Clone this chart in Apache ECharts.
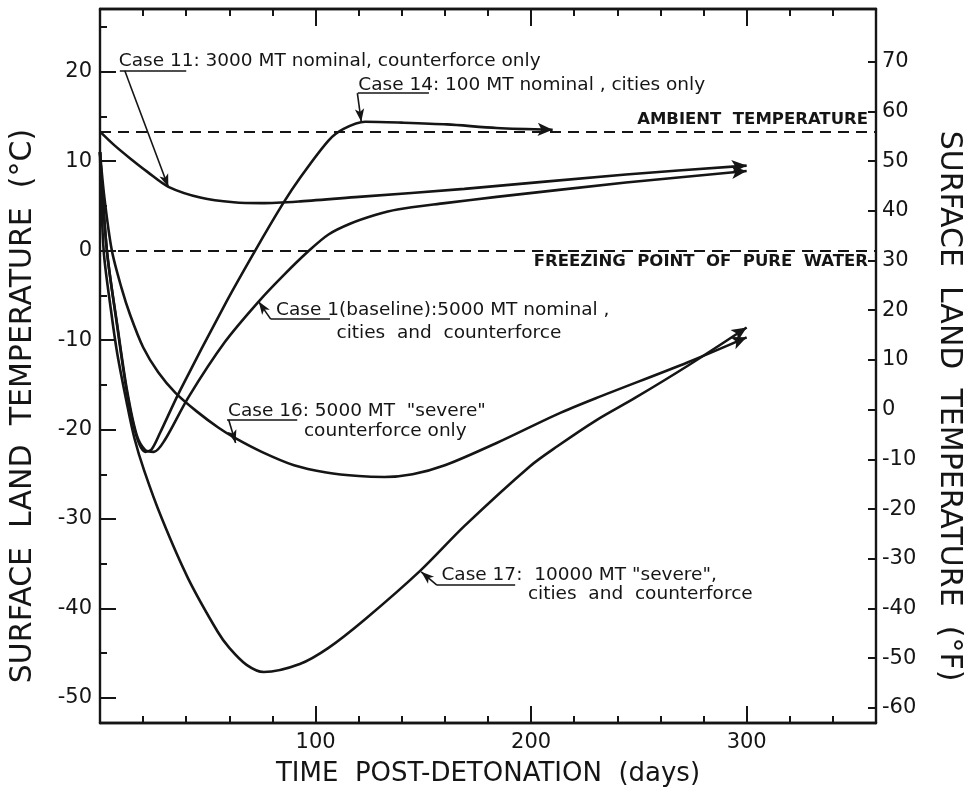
<!DOCTYPE html>
<html>
<head>
<meta charset="utf-8">
<title>Surface land temperature</title>
<script src="https://cdn.jsdelivr.net/npm/echarts@6/dist/echarts.min.js"></script>
<style>
  html, body { margin: 0; padding: 0; background: #fff; }
  #chart { width: 972px; height: 796px; }
</style>
</head>
<body>
<div id="chart"></div>
<script>
  // curves, [day, degC]
  const case11Data = [[0, 13.3], [7, 11.7], [14, 10.3], [22, 8.8], [32, 7.1], [47, 5.9], [62, 5.4], [75, 5.3], [93, 5.5], [120, 6.0], [169, 6.9], [244, 8.5], [300, 9.5]]
  const case14Data = [[0, 11], [3.2, 0], [8, -8.5], [12.6, -16], [17, -20.8], [21, -22.5], [24, -22.2], [28, -20.3], [37, -15.7], [58, -6.0], [72, 0], [85, 5.3], [93, 8.2], [106, 12.3], [113, 13.6], [123, 14.4], [140, 14.3], [161, 14.1], [184, 13.7], [210, 13.5]]
  const case1Data = [[0, 11], [3.2, 0], [8, -8.3], [12.6, -15.7], [17, -20.6], [21, -22.3], [25, -22.5], [30, -21.2], [41, -16.4], [58, -10.2], [73.6, -5.7], [85, -2.8], [97, 0], [106, 1.8], [116, 3.0], [128, 4.0], [138, 4.6], [160, 5.3], [184, 6.0], [244, 7.6], [300, 8.9]]
  const case16Data = [[0, 11], [2, 6], [5.5, 0], [10, -4.2], [14, -7.2], [20, -10.8], [27, -13.6], [35, -15.9], [45, -18.0], [55, -19.8], [63, -21.0], [75, -22.5], [90, -24.0], [105, -24.8], [120, -25.2], [132, -25.3], [145, -25.0], [160, -24.0], [184, -21.5], [212, -18.3], [230, -16.5], [272.5, -12.5], [300, -9.7]]
  const case17Data = [[0, 11], [1.7, 0], [5, -6.5], [8, -11.5], [12.4, -17], [16, -21], [20.5, -24.6], [28.6, -29.9], [40.8, -36.6], [54.6, -42.6], [60, -44.4], [68, -46.3], [76, -47.1], [92.7, -46.2], [106, -44.4], [123, -41.2], [148.5, -35.8], [169, -30.8], [199.5, -24.1], [212, -21.9], [230, -19.0], [248, -16.5], [272.5, -12.9], [300, -8.6]]

  const ambientTemp = 13.3
  const freezingTemp = 0
  const levelNames = ['AMBIENT  TEMPERATURE', 'FREEZING  POINT  OF  PURE  WATER']

  const caption11 = ['Case 11: 3000 MT nominal, counterforce only']
  const caption14 = ['Case 14: 100 MT nominal , cities only']
  const caption1 = ['Case 1(baseline):5000 MT nominal ,', 'cities  and  counterforce']
  const caption16 = ['Case 16: 5000 MT  "severe"', 'counterforce only']
  const caption17 = ['Case 17:  10000 MT "severe",', 'cities  and  counterforce']

  const dayMajorTicks = [100, 200, 300]
  const dayMinorTicks = [20, 40, 60, 80, 120, 140, 160, 180, 220, 240, 260, 280, 320, 340]
  const celsiusTicks = [-50, -40, -30, -20, -10, 0, 10, 20]
  const celsiusMinorTicks = [-45, -35, -25, -15, -5, 5, 15, 25]
  const fahrenheitTicks = [-60, -50, -40, -30, -20, -10, 0, 10, 20, 30, 40, 50, 60, 70]

  const tMin = -52.8
  const tMax = 27
  const toF = c => c * 9 / 5 + 32

  const ink = '#151515'
  const font = 'DejaVu Sans'

  let chart = echarts.init(document.getElementById('chart'))

  function curve(name, data) {
    let n = data.length
    return {
      name: name,
      type: 'line',
      data: data,
      smooth: 0.3,
      symbol: 'none',
      silent: true,
      lineStyle: { color: ink, width: 2.6 },
      markLine: {
        silent: true,
        symbol: ['none', 'arrow'],
        symbolSize: [10, 15],
        label: { show: false },
        lineStyle: { color: ink, width: 0, type: 'solid' },
        data: [[{ coord: data[n - 2] }, { coord: data[n - 1] }]]
      },
      z: 3
    }
  }

  // annotation: text lines anchored at [day, degC], underline and leader arrow
  function note(lines, texts, under, leader) {
    return {
      type: 'scatter',
      symbolSize: 0,
      silent: true,
      itemStyle: { opacity: 1, color: ink },
      data: lines.map((p, i) => ({ value: p, label: { formatter: texts[i] } })),
      label: { show: true, position: 'right', distance: 0, color: ink, opacity: 1, fontSize: 18.5, fontFamily: font },
      markLine: {
        silent: true,
        label: { show: false },
        lineStyle: { color: ink, width: 1.6, type: 'solid', opacity: 1 },
        data: [
          [{ coord: [under[0], under[2]], symbol: 'none' }, { coord: [under[1], under[2]], symbol: 'none' }],
          [{ coord: leader[0], symbol: 'none' }, { coord: leader[1], symbol: 'arrow', symbolSize: [7, 13] }]
        ]
      },
      z: 4
    }
  }

  function tickAxis(pos, values, len, extra) {
    return Object.assign({
      type: 'value',
      position: pos,
      min: 0,
      max: 360,
      interval: 20,
      axisLine: { show: true, onZero: false, lineStyle: { color: ink, width: 2.4 } },
      axisTick: { show: true, inside: true, length: len, customValues: values, lineStyle: { color: ink, width: 2 } },
      axisLabel: { show: false },
      splitLine: { show: false }
    }, extra || {})
  }

  let option = {
    animation: false,
    backgroundColor: '#fff',
    textStyle: { fontFamily: font, color: ink },
    grid: { left: 98, right: 90, top: 9, bottom: 73, containLabel: false },
    xAxis: [
      tickAxis('bottom', dayMajorTicks, 17, {
        interval: 100,
        name: 'TIME  POST-DETONATION  (days)',
        nameLocation: 'middle',
        nameGap: 38,
        nameTextStyle: { fontSize: 26, color: ink, fontFamily: font },
        axisLabel: { show: true, customValues: dayMajorTicks, margin: 9, fontSize: 21, color: ink, fontFamily: font }
      }),
      tickAxis('bottom', dayMinorTicks, 7),
      tickAxis('top', dayMajorTicks, 17),
      tickAxis('top', dayMinorTicks, 7)
    ],
    yAxis: [
      {
        type: 'value',
        position: 'left',
        min: tMin,
        max: tMax,
        axisLine: { show: true, onZero: false, lineStyle: { color: ink, width: 2.4 } },
        axisTick: { show: true, inside: true, length: 16, customValues: celsiusTicks, lineStyle: { color: ink, width: 2 } },
        axisLabel: { customValues: celsiusTicks, margin: 8, fontSize: 21, color: ink, fontFamily: font },
        splitLine: { show: false },
        name: 'SURFACE  LAND  TEMPERATURE  (°C)',
        nameLocation: 'middle',
        nameRotate: 90,
        nameGap: 62,
        nameTextStyle: { fontSize: 30, color: ink, fontFamily: font, padding: [0, 80, 0, 0] }
      },
      {
        type: 'value',
        position: 'left',
        min: tMin,
        max: tMax,
        axisLine: { show: false },
        axisTick: { show: true, inside: true, length: 7, customValues: celsiusMinorTicks, lineStyle: { color: ink, width: 2 } },
        axisLabel: { show: false },
        splitLine: { show: false }
      },
      {
        type: 'value',
        position: 'right',
        min: toF(tMin),
        max: toF(tMax),
        axisLine: { show: true, onZero: false, lineStyle: { color: ink, width: 2.4 } },
        axisTick: { show: true, inside: true, length: 8, customValues: fahrenheitTicks, lineStyle: { color: ink, width: 2 } },
        axisLabel: { customValues: fahrenheitTicks, margin: 6, fontSize: 21, color: ink, fontFamily: font },
        splitLine: { show: false },
        name: 'SURFACE  LAND  TEMPERATURE  (°F)',
        nameLocation: 'middle',
        nameRotate: -90,
        nameGap: 58,
        nameTextStyle: { fontSize: 30, color: ink, fontFamily: font, padding: [0, 0, 0, 80] }
      }
    ],
    series: [
      {
        name: 'levels',
        type: 'scatter',
        symbolSize: 0,
        silent: true,
        data: [[0, ambientTemp], [0, freezingTemp]],
        markLine: {
          silent: true,
          symbol: 'none',
          lineStyle: { color: ink, width: 2, type: [11, 7] },
          label: { show: true, color: ink, fontSize: 16.5, fontWeight: 'bold', fontFamily: font },
          data: [
            { yAxis: ambientTemp, label: { position: 'insideEndTop', formatter: levelNames[0], distance: [8, 3] } },
            { yAxis: freezingTemp, label: { position: 'insideEndBottom', formatter: levelNames[1], distance: [8, 3] } }
          ]
        }
      },
      curve('Case 11', case11Data),
      curve('Case 14', case14Data),
      curve('Case 1', case1Data),
      curve('Case 16', case16Data),
      curve('Case 17', case17Data),
      note([[8.7, 21.2]], caption11, [9.2, 40, 20.1], [[11.5, 20.1], [31.7, 7.1]]),
      note([[119.8, 18.5]], caption14, [119.6, 152.6, 17.6], [[119.4, 17.6], [121.2, 14.4]]),
      note([[81.7, -6.7], [109.7, -9.2]], caption1, [79.2, 106.7, -7.66], [[79.2, -7.66], [73.6, -5.7]]),
      note([[59.4, -18.0], [94.6, -20.2]], caption16, [58.9, 91.5, -18.9], [[59.7, -18.9], [62.9, -21.5]]),
      note([[158.4, -36.3], [198.5, -38.4]], caption17, [156.3, 192.6, -37.4], [[156.3, -37.4], [149, -35.9]])
    ]
  }

  chart.setOption(option)
  window.addEventListener('resize', () => { chart.resize() })
</script>
</body>
</html>
